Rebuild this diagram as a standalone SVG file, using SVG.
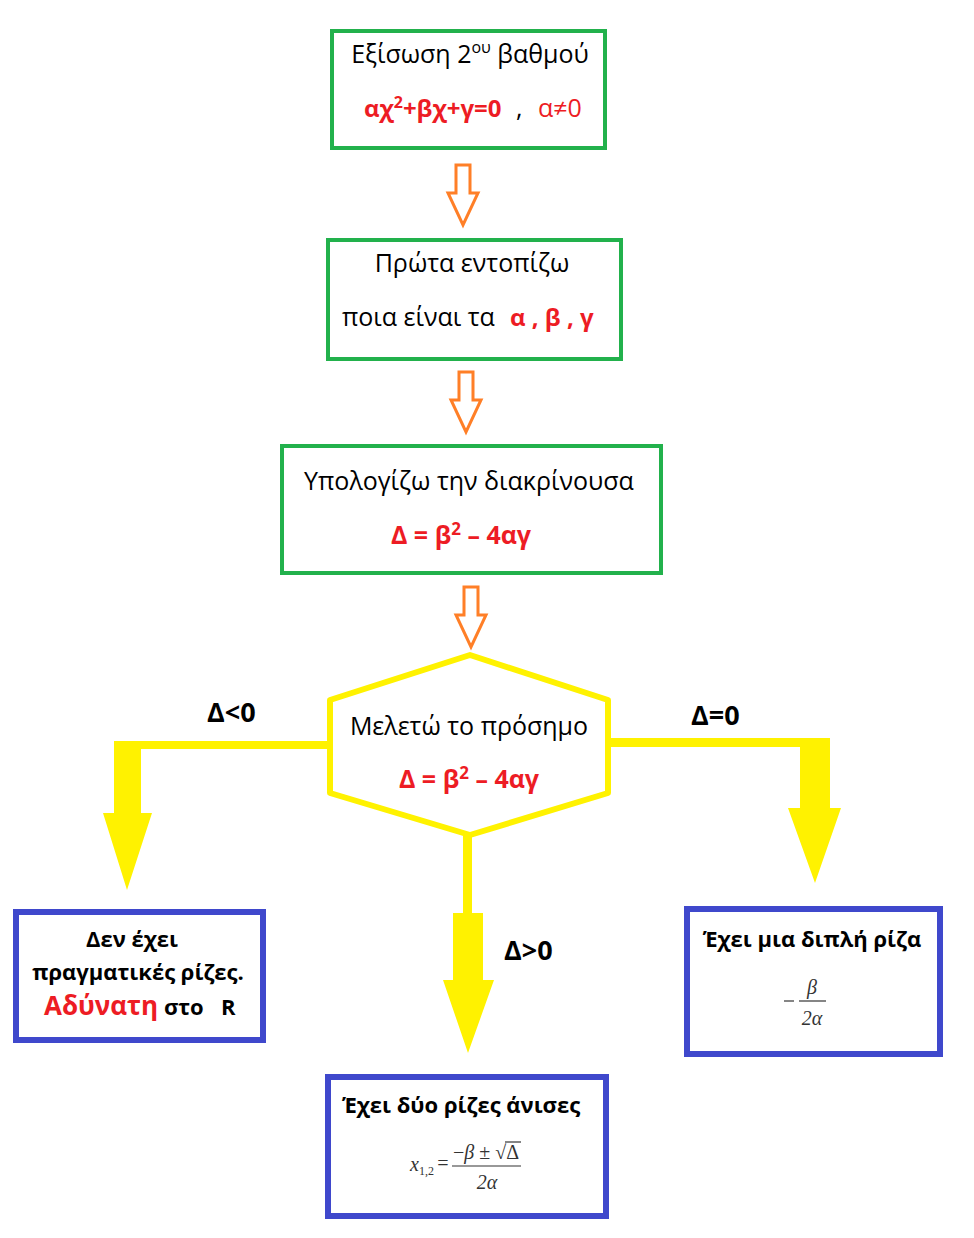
<svg xmlns="http://www.w3.org/2000/svg" width="974" height="1238" viewBox="0 0 974 1238">
<style>
text{font-family:"Open Sans","Noto Sans",sans-serif;fill:#000}
.t{font-size:25px}
.k{font-size:22px;font-weight:bold}
.lab{font-size:27px;font-weight:bold}
.r{fill:#ED1C24}
.b{font-weight:bold}
.m{font-family:"Liberation Serif",serif;font-size:20px;fill:#333;font-style:italic}
.g{fill:#fff;stroke:#22B14C;stroke-width:4}
.bl{fill:#fff;stroke:#3F48CC;stroke-width:6}
.oa{fill:#fff;stroke:#FF7F27;stroke-width:3;stroke-linejoin:miter}
.y{fill:#FFF200;stroke:none}
</style>
<defs>
<path id="oarrow" d="M-7,0 H7 V28 H15 L0,60 L-15,28 H-7 Z"/>
</defs>
<rect width="974" height="1238" fill="#fff"/>
<g id="connectors">
<use href="#oarrow" x="463" y="165" class="oa"/>
<use href="#oarrow" x="466" y="372" class="oa"/>
<use href="#oarrow" x="471" y="587" class="oa"/>
<path class="y" d="M330,741 V749 H141 V813 H152 L127,890 L103,813 H114 V741 Z"/>
<path class="y" d="M608,738 V747 H800 V808 H788 L815,883 L841,808 H830 V738 Z"/>
<path class="y" d="M463,834 H472 V913 H483 V980 H494 L468,1053 L443,980 H453 V913 H463 Z"/>
<text class="lab" x="207" y="722">Δ&lt;0</text>
<text class="lab" x="691" y="725">Δ=0</text>
<text class="lab" x="504" y="960">Δ&gt;0</text>
</g>
<g id="n1">
<rect class="g" x="332" y="31" width="273" height="117"/>
<text class="t" x="470" y="63" text-anchor="middle">Εξίσωση 2<tspan font-size="16" dy="-10">ου</tspan><tspan dy="10"> βαθμού</tspan></text>
<text class="t" x="364" y="117"><tspan class="r b" font-size="24">αχ<tspan font-size="16" dy="-9">2</tspan><tspan dy="9">+βχ+γ=0</tspan></tspan><tspan x="516">,</tspan><tspan class="r" x="538">α≠0</tspan></text>
</g>
<g id="n2">
<rect class="g" x="328" y="240" width="293" height="119"/>
<text class="t" x="472" y="272" text-anchor="middle">Πρώτα εντοπίζω</text>
<text class="t" x="342" y="326">ποια είναι τα<tspan class="r b" x="510" font-size="24">α , β , γ</tspan></text>
</g>
<g id="n3">
<rect class="g" x="282" y="446" width="379" height="127"/>
<text class="t" x="469" y="490" text-anchor="middle">Υπολογίζω την διακρίνουσα</text>
<text class="t r b" x="461" y="544" text-anchor="middle" font-size="26">Δ = β<tspan font-size="17" dy="-9">2</tspan><tspan dy="9"> – 4αγ</tspan></text>
</g>
<g id="n4">
<polygon points="470,655 608,700 608,793 470,835 330,793 330,700" fill="#fff" stroke="#FFF200" stroke-width="6" stroke-linejoin="round"/>
<text class="t" x="469" y="735" text-anchor="middle">Μελετώ το πρόσημο</text>
<text class="t r b" x="469" y="788" text-anchor="middle" font-size="26">Δ = β<tspan font-size="17" dy="-9">2</tspan><tspan dy="9"> – 4αγ</tspan></text>
</g>
<g id="n5">
<rect class="bl" x="16" y="912" width="247" height="128"/>
<text class="k" x="132" y="947" text-anchor="middle">Δεν έχει</text>
<text class="k" x="138" y="980" text-anchor="middle">πραγματικές ρίζες.</text>
<text class="k" x="44" y="1015"><tspan class="r" font-size="26">Αδύνατη</tspan> στο<tspan x="221">R</tspan></text>
</g>
<g id="n6">
<rect class="bl" x="687" y="909" width="253" height="145"/>
<text class="k" x="812" y="947" text-anchor="middle">Έχει μια διπλή ρίζα</text>
<line x1="784" y1="1001" x2="794" y2="1001" stroke="#333" stroke-width="1.2"/>
<line x1="799" y1="1001" x2="826" y2="1001" stroke="#333" stroke-width="1.2"/>
<text class="m" x="812" y="994" text-anchor="middle">β</text>
<text class="m" x="812" y="1025" text-anchor="middle">2α</text>
</g>
<g id="n7">
<rect class="bl" x="328" y="1077" width="278" height="139"/>
<text class="k" x="342" y="1113">Έχει δύο ρίζες άνισες</text>
<text class="m" x="410" y="1171">x<tspan font-size="12" font-style="normal" dy="4">1,2</tspan></text>
<text class="m" x="436" y="1170" font-style="normal">=</text>
<text class="m" x="453" y="1159"><tspan font-style="normal">−</tspan>β<tspan font-style="normal"> ± √Δ</tspan></text>
<line x1="505" y1="1142" x2="521" y2="1142" stroke="#333" stroke-width="1.2"/>
<line x1="452" y1="1166" x2="521" y2="1166" stroke="#333" stroke-width="1.2"/>
<text class="m" x="487" y="1189" text-anchor="middle">2α</text>
</g>
</svg>
